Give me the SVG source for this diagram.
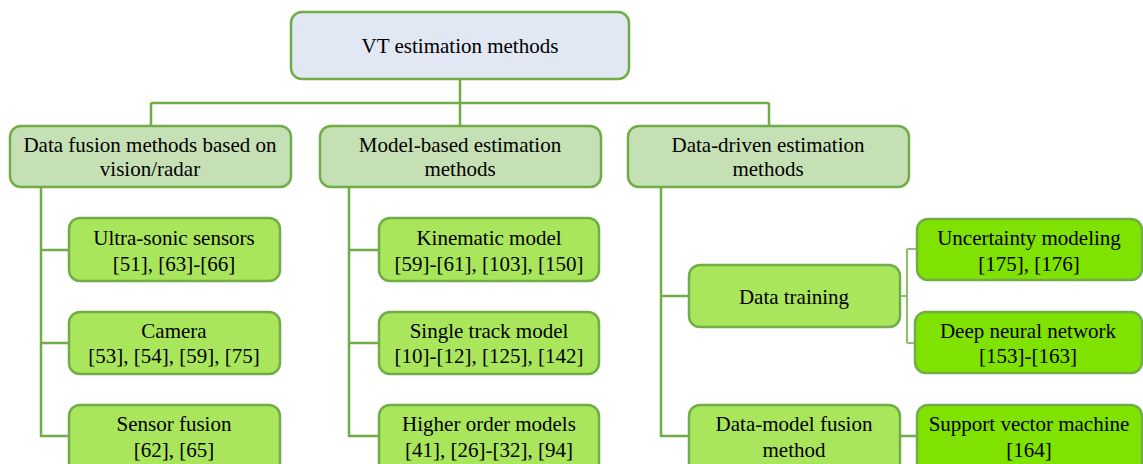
<svg xmlns="http://www.w3.org/2000/svg" width="1143" height="464" viewBox="0 0 1143 464">
<style>
.b{stroke:#70ad47;stroke-width:2.5}
.r{fill:#e1e7f3}
.l1{fill:#c5e0b4}
.l2{fill:#a9e65c}
.l3{fill:#80e200}
text{font-family:'Liberation Serif','Times New Roman',serif;font-size:21px;fill:#000;text-anchor:middle}
.c{fill:none;stroke:#70ad47;stroke-width:2.5}
.c2{fill:none;stroke:#8cc36a;stroke-width:2}
</style>
<rect width="1143" height="464" fill="#fff"/>
<g id="connectors">
<path class="c" d="M460 79V126M151 103H769M151 103V126M769 103V126"/>
<path class="c" d="M41 187V436H69M41 250H69M41 343H69"/>
<path class="c" d="M349 187V436H379M349 250H379M349 343H379"/>
<path class="c" d="M661 187V436H689M661 296H689M900 436H917"/>
<path class="c2" d="M900 296H907M907 249V343M907 249H917M907 343H915"/>
</g>
<g id="root"><rect class="b r" x="291" y="12" width="338" height="67" rx="11"/><text x="460" y="53">VT estimation methods</text></g>
<g id="n1"><rect class="b l1" x="10" y="126" width="281" height="61" rx="11"/><text x="150" y="152">Data fusion methods based on</text><text x="150" y="176">vision/radar</text></g>
<g id="n2"><rect class="b l1" x="320" y="126" width="281" height="61" rx="11"/><text x="460" y="152">Model-based estimation</text><text x="460" y="176">methods</text></g>
<g id="n3"><rect class="b l1" x="628" y="126" width="281" height="61" rx="11"/><text x="768" y="152">Data-driven estimation</text><text x="768" y="176">methods</text></g>
<g id="n1a"><rect class="b l2" x="69" y="218" width="211" height="63" rx="11"/><text x="174" y="245">Ultra-sonic sensors</text><text x="174" y="271">[51], [63]-[66]</text></g>
<g id="n1b"><rect class="b l2" x="69" y="312" width="211" height="62" rx="11"/><text x="174" y="338">Camera</text><text x="174" y="363">[53], [54], [59], [75]</text></g>
<g id="n1c"><rect class="b l2" x="69" y="405" width="211" height="70" rx="11"/><text x="174" y="431">Sensor fusion</text><text x="174" y="457">[62], [65]</text></g>
<g id="n2a"><rect class="b l2" x="379" y="218" width="220" height="63" rx="11"/><text x="489" y="245">Kinematic model</text><text x="489" y="271">[59]-[61], [103], [150]</text></g>
<g id="n2b"><rect class="b l2" x="379" y="312" width="220" height="62" rx="11"/><text x="489" y="338">Single track model</text><text x="489" y="363">[10]-[12], [125], [142]</text></g>
<g id="n2c"><rect class="b l2" x="379" y="405" width="220" height="70" rx="11"/><text x="489" y="431">Higher order models</text><text x="489" y="457">[41], [26]-[32], [94]</text></g>
<g id="n3a"><rect class="b l2" x="689" y="265" width="211" height="62" rx="11"/><text x="794" y="304">Data training</text></g>
<g id="n3b"><rect class="b l2" x="689" y="405" width="211" height="70" rx="11"/><text x="794" y="431">Data-model fusion</text><text x="794" y="457">method</text></g>
<g id="n3a1"><rect class="b l3" x="917" y="219" width="225" height="61" rx="11"/><text x="1029" y="245">Uncertainty modeling</text><text x="1029" y="271">[175], [176]</text></g>
<g id="n3a2"><rect class="b l3" x="915" y="312" width="227" height="61" rx="11"/><text x="1028" y="338">Deep neural network</text><text x="1028" y="363">[153]-[163]</text></g>
<g id="n3b1"><rect class="b l3" x="917" y="405" width="225" height="70" rx="11"/><text x="1029" y="431">Support vector machine</text><text x="1029" y="457">[164]</text></g>
</svg>
